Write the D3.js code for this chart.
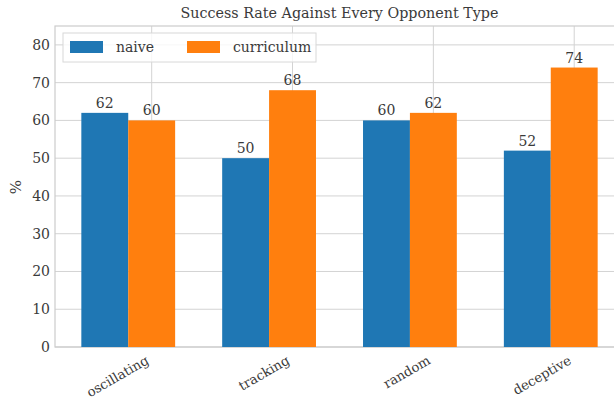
<!DOCTYPE html>
<html>
<head>
<meta charset="utf-8">
<script src="https://cdn.jsdelivr.net/npm/d3@7"></script>
<style>
  body { margin: 0; background: #fff; }
  svg text { font-family: "DejaVu Serif", serif; fill: #3a3a3a; }
</style>
</head>
<body>
<svg width="614" height="400"></svg>
<script>
const opponents = ["oscillating", "tracking", "random", "deceptive"]
const naive = [62, 50, 60, 52]
const curriculum = [60, 68, 62, 74]
const yTicks = [0, 10, 20, 30, 40, 50, 60, 70, 80]

const barWidth = 0.333
const colors = { naive: "#1f77b4", curriculum: "#ff7f0e" }

const svg = d3.select("svg")
const xScale = d3.scaleLinear().domain([-0.52, 3.52]).range([55, 624])
const yScale = d3.scaleLinear().domain([0, 85]).range([347, 26])

// grid
const grid = svg.append("g").attr("id", "grid")
grid.selectAll("line.h")
    .data(yTicks)
    .enter()
    .append("line")
    .attr("x1", xScale.range()[0]).attr("x2", xScale.range()[1])
    .attr("y1", d => yScale(d)).attr("y2", d => yScale(d))
    .attr("stroke", "#d3d3d3").attr("stroke-width", 1)
grid.selectAll("line.v")
    .data(opponents)
    .enter()
    .append("line")
    .attr("x1", (d, i) => xScale(i + barWidth / 2)).attr("x2", (d, i) => xScale(i + barWidth / 2))
    .attr("y1", yScale.range()[0]).attr("y2", yScale.range()[1])
    .attr("stroke", "#d3d3d3").attr("stroke-width", 1)

// spines
svg.append("rect")
    .attr("x", xScale.range()[0]).attr("y", yScale.range()[1])
    .attr("width", xScale.range()[1] - xScale.range()[0])
    .attr("height", yScale.range()[0] - yScale.range()[1])
    .attr("fill", "none").attr("stroke", "#cccccc").attr("stroke-width", 1.2)

// bars
const series = [
    { key: "naive", values: naive, offset: -barWidth / 2 },
    { key: "curriculum", values: curriculum, offset: barWidth / 2 }
]

series.forEach(s => {
    const g = svg.append("g").attr("class", "bars-" + s.key)
    g.selectAll("rect")
        .data(s.values)
        .enter()
        .append("rect")
        .attr("x", (d, i) => xScale(i + s.offset - barWidth / 2))
        .attr("width", xScale(barWidth) - xScale(0))
        .attr("y", d => yScale(d))
        .attr("height", d => yScale(0) - yScale(d))
        .attr("fill", colors[s.key])
    g.selectAll("text")
        .data(s.values)
        .enter()
        .append("text")
        .attr("x", (d, i) => xScale(i + s.offset))
        .attr("y", d => yScale(d) - 5)
        .attr("text-anchor", "middle")
        .attr("font-size", 14)
        .text(d => d)
})

// y axis labels
svg.append("g")
    .selectAll("text")
    .data(yTicks)
    .enter()
    .append("text")
    .attr("x", 50)
    .attr("y", d => yScale(d))
    .attr("dy", "0.35em")
    .attr("text-anchor", "end")
    .attr("font-size", 14)
    .text(d => d)

// x tick labels, rotated
svg.append("g")
    .selectAll("text")
    .data(opponents)
    .enter()
    .append("text")
    .attr("transform", (d, i) => `translate(${xScale(i + barWidth / 2) - 2}, 363) rotate(-30)`)
    .attr("text-anchor", "end")
    .attr("font-size", 13.2)
    .text(d => d)

// y label
svg.append("text")
    .attr("transform", "translate(21, 187) rotate(-90)")
    .attr("text-anchor", "middle")
    .attr("font-size", 15)
    .text("%")

// title
svg.append("text")
    .attr("x", (xScale.range()[0] + xScale.range()[1]) / 2)
    .attr("y", 18)
    .attr("text-anchor", "middle")
    .attr("font-size", 14.3)
    .text("Success Rate Against Every Opponent Type")

// legend
const legend = svg.append("g").attr("transform", "translate(63, 33)")
legend.append("rect")
    .attr("width", 253).attr("height", 29)
    .attr("fill", "#fff").attr("fill-opacity", 0.8)
    .attr("stroke", "#d8d8d8").attr("stroke-width", 1)
const legendItems = [
    { label: "naive", color: colors.naive, x: 7 },
    { label: "curriculum", color: colors.curriculum, x: 124 }
]
legendItems.forEach(it => {
    legend.append("rect")
        .attr("x", it.x).attr("y", 8)
        .attr("width", 33).attr("height", 12)
        .attr("fill", it.color)
    legend.append("text")
        .attr("x", it.x + 46).attr("y", 14)
        .attr("dy", "0.35em")
        .attr("font-size", 14)
        .text(it.label)
})
</script>
</body>
</html>
